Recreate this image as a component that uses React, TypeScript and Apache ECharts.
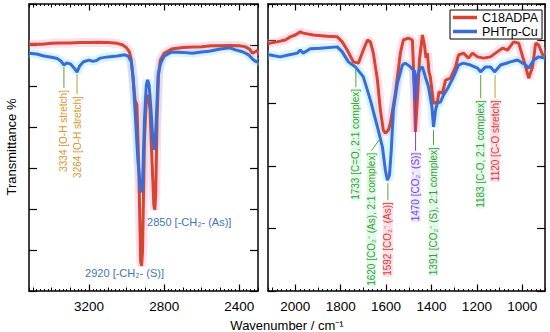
import React, { useEffect, useRef } from 'react';
import * as echarts from 'echarts';

const FONT = 'Liberation Sans, Arial, Helvetica, sans-serif';
const RED = '#d4462f';
const BLUE = '#3b6bd6';
const RED_HALO = 'rgba(255,160,205,0.35)';
const BLUE_HALO = 'rgba(140,225,255,0.35)';

// ---- Left panel (C-H / O-H region) ----
const leftRedWn = [3520,3450,3400,3350,3300,3250,3200,3150,3100,3050,3020,3000,2985,2975,2965,2955,2945,2935,2925,2920,2915,2905,2895,2885,2875,2865,2855,2850,2845,2838,2830,2820,2800,2760,2700,2650,2600,2550,2500,2450,2400,2370,2345,2330,2315,2300];
const leftRedT = [6.02,6.02,6.04,6.05,6.05,6.06,6.06,6.07,6.06,6.04,6.00,5.93,5.83,5.63,5.15,4.66,4.54,2.95,0.71,0.61,1.0,3.68,4.66,4.78,4.41,3.2,2.1,1.98,2.34,4.17,5.27,5.63,5.8,5.9,5.94,5.95,5.96,5.98,5.98,5.99,5.98,5.96,5.90,5.80,5.83,5.88];
const leftBlueWn = [3520,3480,3440,3400,3370,3350,3334,3320,3300,3280,3264,3250,3230,3200,3180,3160,3140,3100,3050,3010,2990,2975,2965,2955,2940,2925,2920,2915,2905,2895,2888,2880,2870,2860,2850,2842,2832,2820,2800,2760,2700,2650,2600,2560,2500,2450,2420,2380,2350,2330,2310,2300];
const leftBlueT = [5.80,5.78,5.73,5.70,5.67,5.61,5.51,5.56,5.54,5.44,5.34,5.49,5.59,5.63,5.60,5.62,5.68,5.71,5.73,5.76,5.72,5.59,5.2,4.41,3.2,2.46,2.41,2.59,4.17,5.02,5.15,5.02,4.41,3.68,3.44,4.17,5.27,5.54,5.73,5.83,5.82,5.8,5.83,5.85,5.90,5.93,5.88,5.83,5.76,5.66,5.59,5.61];

// ---- Right panel (fingerprint region) ----
const rightRedWn = [2120,2110,2081,2044,2022,2000,1978,1965,1921,1859,1815,1793,1771,1744,1722,1700,1682,1669,1656,1638,1625,1612,1603,1590,1581,1559,1537,1524,1502,1484,1477,1471,1462,1453,1440,1431,1424,1418,1411,1405,1391,1374,1367,1352,1338,1316,1294,1281,1259,1237,1219,1197,1171,1140,1118,1087,1065,1038,1016,985,972,955,941,928,910,900];
const rightRedT = [3.95,3.96,3.98,4.01,4.06,4.09,4.14,4.12,4.09,4.07,4.06,3.98,3.85,3.66,3.64,3.85,4.01,3.98,3.80,3.37,2.89,2.57,2.52,2.57,2.68,3.16,3.80,4.01,4.04,4.01,3.37,2.54,3.05,3.69,4.09,3.93,3.72,3.80,3.50,3.42,3.00,3.02,3.18,3.16,3.37,3.40,3.58,3.77,3.80,3.72,3.80,3.74,3.72,3.74,3.80,3.88,3.85,3.98,3.96,3.58,3.40,3.58,3.96,3.93,3.77,3.77];
const rightBlueWn = [2120,2110,2066,2031,1991,1978,1965,1934,1890,1815,1793,1766,1735,1700,1669,1638,1616,1603,1594,1585,1577,1568,1550,1528,1515,1493,1480,1471,1462,1449,1440,1427,1413,1398,1391,1382,1374,1360,1347,1325,1303,1281,1259,1228,1197,1184,1162,1140,1122,1096,1052,1021,985,972,950,928,900];
const rightBlueT = [3.77,3.77,3.74,3.77,3.80,3.85,3.80,3.87,3.88,3.90,3.82,3.66,3.58,3.42,3.05,2.62,2.30,1.93,1.77,1.85,2.25,2.89,3.32,3.61,3.64,3.58,3.53,3.05,3.45,3.56,3.58,3.42,3.26,2.94,2.62,2.89,3.00,3.02,3.13,3.26,3.42,3.61,3.64,3.61,3.56,3.50,3.58,3.58,3.50,3.61,3.66,3.69,3.61,3.56,3.69,3.74,3.72];

const seriesNames = ['C18ADPA', 'PHTrp-Cu'];
const leftTickLabels = [2400, 2800, 3200];
const rightTickLabels = [1000, 1200, 1400, 1600, 1800, 2000];

// ---- Peak annotations ----
const leftAnnText = ['3334 [O-H stretch]', '3264 [O-H stretch]'];
const leftAnnWn = [3334, 3264];
const leftAnnFrom = [5.46, 5.29];
const leftAnnTo = [4.95, 4.80];

const leftPeakText = ['2920 [-CH\u2082- (S)]', '2850 [-CH\u2082- (As)]'];
const leftPeakWn = [3221, 2891];
const leftPeakT = [0.44, 1.68];

const rightAnnText = [
  '1733 [C=O, 2:1 complex]',
  '1620 [CO\u2082\u207B (As), 2:1 complex]',
  '1592 [CO\u2082\u207B (As)]',
  '1470 [CO\u2082\u207B (S)]',
  '1391 [CO\u2082\u207B (S), 2:1 complex]',
  '1183 [C-O, 2:1 complex]',
  '1120 [C-O stretch]',
];
const rightAnnWnFrom = [1733, 1625, 1592, 1470, 1391, 1183, 1120];
const rightAnnWnTo = [1733, 1665, 1592, 1470, 1391, 1183, 1120];
const rightAnnFrom = [3.59, 2.44, 1.72, 3.53, 2.57, 3.45, 3.45];
const rightAnnTo = [3.26, 2.24, 1.45, 2.24, 2.33, 3.08, 3.08];

const GREEN = '#3f9a3a';
const GREEN_LINE = '#5d9c3c';
const ORANGE = '#d8962c';
const PURPLE = '#7440e0';
const ANN_RED = '#d8402a';
const LBL_BLUE = '#4573b3';
const BG_GREEN = 'rgba(215,250,225,0.7)';
const BG_RED = 'rgba(255,215,228,0.8)';
const BG_PURPLE = 'rgba(232,225,255,0.7)';

const leftAnnColor = [ORANGE, ORANGE];
const leftAnnLine = [GREEN_LINE, '#a0a83a'];
const rightAnnColor = [GREEN, GREEN, ANN_RED, PURPLE, GREEN, GREEN, ANN_RED];
const rightAnnBg = [BG_GREEN, BG_GREEN, BG_RED, BG_PURPLE, BG_GREEN, BG_GREEN, BG_RED];
const rightAnnLine = [GREEN_LINE, GREEN_LINE, GREEN_LINE, PURPLE, GREEN_LINE, GREEN_LINE, '#b8a040'];

const zip = (a: number[], b: number[]) => a.map((v, i) => [v, b[i]]);

function xAxesFor(gridIndex: number, min: number, max: number, labels: number[]) {
  const base = { type: 'value', gridIndex, min, max, inverse: true, splitLine: { show: false } };
  const out: any[] = [];
  for (const position of ['bottom', 'top']) {
    const isBottom = position === 'bottom';
    out.push({
      ...base, position, interval: 100,
      axisLine: { show: true, onZero: false, lineStyle: { color: '#000', width: 1.5 } },
      axisTick: { show: true, inside: true, length: 3.5, lineStyle: { color: '#000', width: 1 } },
      axisLabel: {
        show: isBottom, margin: 8, color: '#000', fontSize: 13.5, fontFamily: FONT,
        formatter: (v: number) => (labels.indexOf(v) >= 0 ? String(v) : ''),
      },
    });
    out.push({
      ...base, position, interval: 20,
      axisLine: { show: false, onZero: false },
      axisTick: { show: true, inside: true, length: 2, lineStyle: { color: '#000', width: 1 } },
      axisLabel: { show: false },
    });
    out.push({
      ...base, position,
      axisLine: { show: false, onZero: false },
      axisTick: { show: true, inside: true, length: 6.5, customValues: labels, lineStyle: { color: '#000', width: 1.2 } },
      axisLabel: { show: false },
    });
  }
  return out;
}

function yAxesFor(gridIndex: number, max: number) {
  return ['left', 'right'].map((position) => ({
    type: 'value', gridIndex, position, min: 0, max, interval: 1,
    axisLine: { show: true, onZero: false, lineStyle: { color: '#000', width: 1.5 } },
    axisTick: { show: true, inside: true, length: 8, lineStyle: { color: '#000', width: 1.2 } },
    axisLabel: { show: false },
    splitLine: { show: false },
  }));
}

type Ann = { x1: number; y1: number; x2: number; y2: number; text: string; color: string; line?: string; bg?: string; horizontal?: boolean };

function annSeries(xi: number, yi: number, items: Ann[]) {
  return {
    type: 'custom', xAxisIndex: xi, yAxisIndex: yi, silent: true, z: 5,
    data: items.map((a) => [a.x1, a.y1, a.x2, a.y2]),
    renderItem: (params: any, api: any) => {
      const a = items[params.dataIndex];
      const p1 = api.coord([a.x1, a.y1]);
      const p2 = api.coord([a.x2, a.y2]);
      const children: any[] = [];
      if (a.horizontal) {
        children.push({
          type: 'text', x: p1[0], y: p1[1],
          style: { text: a.text, fill: a.color, font: `11px ${FONT}`, align: 'left', verticalAlign: 'middle' },
        });
      } else {
        children.push({
          type: 'line', shape: { x1: p1[0], y1: p1[1], x2: p2[0], y2: p2[1] },
          style: { stroke: a.line, lineWidth: 1 },
        });
        children.push({
          type: 'text', x: p2[0], y: p2[1] + 1, rotation: Math.PI / 2,
          style: {
            text: a.text, fill: a.color, font: `10px ${FONT}`, align: 'right', verticalAlign: 'middle',
            backgroundColor: a.bg, padding: [0, 1],
          },
        });
      }
      return { type: 'group', children };
    },
  };
}

export default function App() {
  const ref = useRef<HTMLDivElement>(null);
  useEffect(() => {
    if (!ref.current) return;
    const chart = echarts.init(ref.current, undefined, { renderer: 'svg' });

    const leftAnns: Ann[] = leftAnnText.map((t, i) => ({
      x1: leftAnnWn[i], y1: leftAnnFrom[i], x2: leftAnnWn[i], y2: leftAnnTo[i], text: t, color: leftAnnColor[i], line: leftAnnLine[i],
    }));
    leftPeakText.forEach((t, i) => leftAnns.push({
      x1: leftPeakWn[i], y1: leftPeakT[i], x2: leftPeakWn[i], y2: leftPeakT[i], text: t, color: LBL_BLUE, horizontal: true,
    }));
    const rightAnns: Ann[] = rightAnnText.map((t, i) => ({
      x1: rightAnnWnFrom[i], y1: rightAnnFrom[i], x2: rightAnnWnTo[i], y2: rightAnnTo[i], text: t, color: rightAnnColor[i], line: rightAnnLine[i], bg: rightAnnBg[i],
    }));

    const lineBase = { type: 'line', showSymbol: false, symbol: 'none', smooth: false };
    const mk = (name: string, xi: number, yi: number, wn: number[], t: number[], color: string, halo: string) => [
      { ...lineBase, name: name + ' halo', xAxisIndex: xi, yAxisIndex: yi, data: zip(wn, t), silent: true, z: 1, lineStyle: { color: halo, width: 9 } },
      { ...lineBase, name, xAxisIndex: xi, yAxisIndex: yi, data: zip(wn, t), z: 3, lineStyle: { color, width: 3 }, itemStyle: { color } },
    ];

    chart.setOption({
      animation: false,
      backgroundColor: '#fff',
      grid: [
        { left: 29, top: 4, width: 229, height: 287 },
        { left: 268, top: 4, width: 277, height: 287 },
      ],
      xAxis: [...xAxesFor(0, 2300, 3520, leftTickLabels), ...xAxesFor(1, 900, 2120, rightTickLabels)],
      yAxis: [...yAxesFor(0, 7), ...yAxesFor(1, 4.585)],
      legend: {
        data: seriesNames, orient: 'vertical', left: 450, top: 10,
        icon: 'rect', itemWidth: 24, itemHeight: 3.5, itemGap: 1,
        padding: [1, 4, 1, 3],
        borderColor: '#000', borderWidth: 1, backgroundColor: '#fff',
        textStyle: { fontSize: 12.5, fontFamily: FONT, color: '#000' },
      },
      graphic: [
        {
          type: 'text', x: 11, y: 147, rotation: Math.PI / 2,
          style: { text: 'Transmittance %', font: `13px ${FONT}`, fill: '#000', align: 'center', verticalAlign: 'middle' },
        },
        {
          type: 'text', x: 287, y: 325,
          style: { text: 'Wavenumber / cm\u207B\u00B9', font: `13px ${FONT}`, fill: '#000', align: 'center', verticalAlign: 'middle' },
        },
      ],
      series: [
        ...mk(seriesNames[0], 0, 0, leftRedWn, leftRedT, RED, RED_HALO),
        ...mk(seriesNames[1], 0, 0, leftBlueWn, leftBlueT, BLUE, BLUE_HALO),
        ...mk(seriesNames[0], 6, 2, rightRedWn, rightRedT, RED, RED_HALO),
        ...mk(seriesNames[1], 6, 2, rightBlueWn, rightBlueT, BLUE, BLUE_HALO),
        annSeries(0, 0, leftAnns),
        annSeries(6, 2, rightAnns),
      ],
    });
    return () => chart.dispose();
  }, []);
  return <div ref={ref} style={{ position: 'fixed', left: 0, top: 0, width: 550, height: 332 }} />;
}
